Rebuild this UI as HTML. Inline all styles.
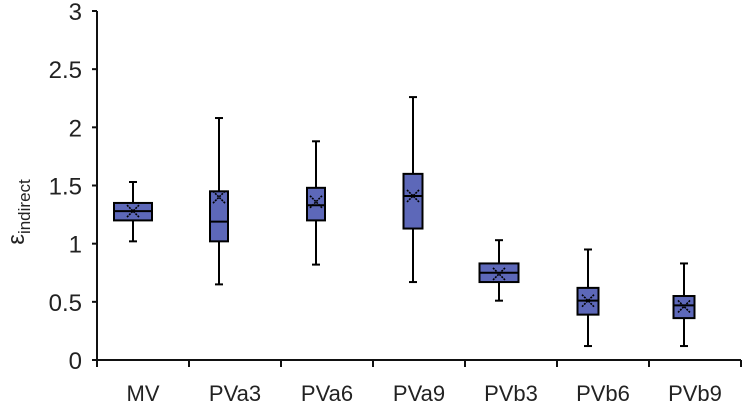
<!DOCTYPE html>
<html><head><meta charset="utf-8"><style>
body{margin:0;background:#fff;}
svg{display:block;font-family:"Liberation Sans",Arial,sans-serif;}
</style></head><body>
<svg id="chart" width="742" height="406" viewBox="0 0 742 406"></svg>
<script>
const categories=["MV","PVa3","PVa6","PVa9","PVb3","PVb6","PVb9"];
const whiskerMax=[1.53,2.08,1.88,2.26,1.03,0.95,0.83];
const q3=[1.35,1.45,1.48,1.60,0.83,0.62,0.55];
const median=[1.28,1.19,1.33,1.41,0.75,0.51,0.47];
const q1=[1.20,1.02,1.20,1.13,0.67,0.39,0.36];
const whiskerMin=[1.02,0.65,0.82,0.67,0.51,0.12,0.12];
const means=[1.28,1.40,1.36,1.41,0.74,0.51,0.46];
const yTicks=[0,0.5,1,1.5,2,2.5,3];
const yTickLabels=["0","0.5","1","1.5","2","2.5","3"];

const NS="http://www.w3.org/2000/svg";
const svg=document.getElementById("chart");
const x0=97,catW=92,yTop=11,yBot=360,yMax=3;
const boxW=[38,18,18,19,39,21,21];
const boxOff=[-10,-16,-11,-6,-12,-15,-11];
function y(v){return yBot-(v/yMax)*(yBot-yTop);}
function xc(i){return x0+catW*(i+0.5)+boxOff[i];}
function el(tag,attrs,parent){const e=document.createElementNS(NS,tag);for(const k in attrs)e.setAttribute(k,attrs[k]);(parent||svg).appendChild(e);return e;}

const axes=el("g",{});


const ya=el("line",{x1:x0,y1:yTop,x2:x0,y2:yBot,stroke:"#111","stroke-width":2},axes);


const xa=el("line",{x1:x0,y1:yBot,x2:x0+catW*categories.length,y2:yBot,stroke:"#111","stroke-width":2},axes);


yTicks.forEach((t,i)=>{
  el("line",{x1:x0-5,y1:y(t),x2:x0,y2:y(t),stroke:"#111","stroke-width":2},axes);
  const tx=el("text",{x:x0-15,y:y(t)+9,"text-anchor":"end","font-size":24,fill:"#222"},axes);
  tx.textContent=yTickLabels[i];
  
  
});
for(let i=0;i<=categories.length;i++){
  el("line",{x1:x0+catW*i,y1:yBot,x2:x0+catW*i,y2:yBot+7,stroke:"#111","stroke-width":2},axes);
}
categories.forEach((c,i)=>{
  const tx=el("text",{x:x0+catW*(i+0.5),y:401,"text-anchor":"middle","font-size":22,fill:"#222"},axes);
  tx.textContent=c;
  
  
});
const yt=el("text",{transform:"translate(24,212) rotate(-90)","text-anchor":"middle","font-size":24,fill:"#222"});
yt.innerHTML='ε<tspan font-size="17" dy="6">indirect</tspan>';



categories.forEach((c,i)=>{
  const g=el("g",{});
  
  
  const cx=xc(i),w=boxW[i];
  el("line",{x1:cx,y1:y(whiskerMax[i]),x2:cx,y2:y(whiskerMin[i]),stroke:"#000","stroke-width":2},g);
  el("line",{x1:cx-4,y1:y(whiskerMax[i]),x2:cx+4,y2:y(whiskerMax[i]),stroke:"#000","stroke-width":2},g);
  el("line",{x1:cx-4,y1:y(whiskerMin[i]),x2:cx+4,y2:y(whiskerMin[i]),stroke:"#000","stroke-width":2},g);
  el("rect",{x:cx-w/2,y:y(q3[i]),width:w,height:y(q1[i])-y(q3[i]),fill:"#5d68b9",stroke:"#000","stroke-width":2},g);
  el("line",{x1:cx-w/2,y1:y(median[i]),x2:cx+w/2,y2:y(median[i]),stroke:"#000","stroke-width":2},g);
  const m=y(means[i]),s=6;
  el("path",{d:`M${cx-s} ${m-s}L${cx+s} ${m+s}M${cx+s} ${m-s}L${cx-s} ${m+s}`,stroke:"#000","stroke-width":1.6,"stroke-dasharray":"2,1",fill:"none"},g);
});
</script>
</body></html>
